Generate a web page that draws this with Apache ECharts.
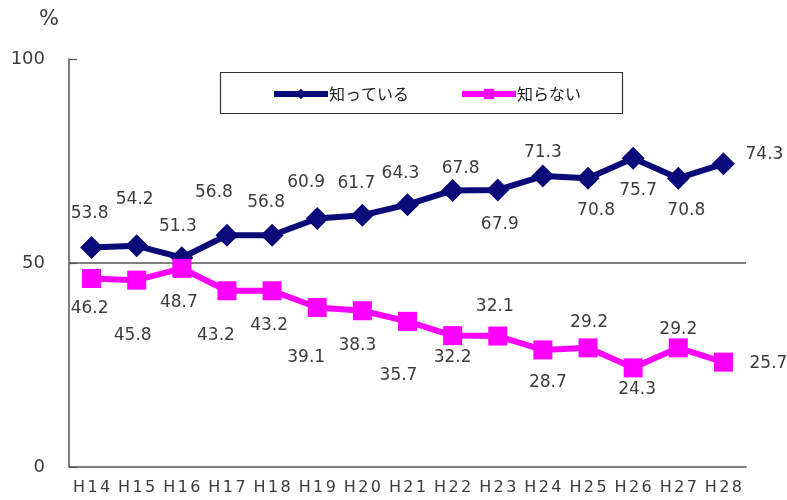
<!DOCTYPE html>
<html>
<head>
<meta charset="utf-8">
<script src="https://cdn.jsdelivr.net/npm/echarts@6/dist/echarts.min.js"></script>
<style>
  html, body { margin: 0; padding: 0; background: #fff; }
  #chart { width: 787px; height: 500px; }
</style>
</head>
<body>
<div id="chart"></div>
<script>
// Survey years (Heisei era)
const years = ['H14','H15','H16','H17','H18','H19','H20','H21','H22','H23','H24','H25','H26','H27','H28'];
// Share of respondents (%)
const knowValues    = [53.8, 54.2, 51.3, 56.8, 56.8, 60.9, 61.7, 64.3, 67.8, 67.9, 71.3, 70.8, 75.7, 70.8, 74.3];
const notKnowValues = [46.2, 45.8, 48.7, 43.2, 43.2, 39.1, 38.3, 35.7, 32.2, 32.1, 28.7, 29.2, 24.3, 29.2, 25.7];
const seriesNames = ['知っている', '知らない'];

// Label offsets [dx, dy] from each marker centre, so labels avoid the lines
const knowLabelOffsets = [
  [-2,-34],[-2,-46],[-4,-31],[-13,-43],[-6,-33],[-11,-36],[-6,-32],[-7,-31],
  [8,-22],[2,35],[0,-24],[8,32],[5,32],[8,32],[41,-9]
];
const notKnowLabelOffsets = [
  [-2,30],[-4,55],[-3,34],[-11,45],[-3,35],[-11,50],[-5,35],[-9,54],
  [0,22],[-3,-29],[5,33],[1,-25],[4,22],[0,-18],[45,1]
];

const textColor = '#3c3c3c';
const labelFont = { fontSize: 17, color: textColor, fontFamily: 'DejaVu Sans, sans-serif' };

function buildData(values, offsets) {
  return values.map((v, i) => ({ value: v, label: { offset: offsets[i] } }));
}

// Spread the characters of a tick label slightly apart
function spaced(str) {
  return str.split('').map(c => '{c|' + c + '}').join('');
}

const chart = echarts.init(document.getElementById('chart'), null, { renderer: 'canvas' });

chart.setOption({
  backgroundColor: '#ffffff',
  animation: false,
  grid: { left: 69, right: 41, top: 59, bottom: 33 },
  graphic: [
    { type: 'text', left: 39, top: 9, style: { text: '%', fontSize: 21, fill: textColor, fontFamily: 'DejaVu Sans, sans-serif' } },
    { type: 'rect', shape: { x: 220.5, y: 72.5, width: 402, height: 41 }, style: { fill: '#fff', stroke: '#333', lineWidth: 1.2 }, z: 1 }
  ],
  legend: {
    left: 266, top: 81,
    itemWidth: 54, itemHeight: 13, itemGap: 50,
    lineStyle: { width: 6 },
    textStyle: { fontSize: 16, color: '#222', fontFamily: 'Noto Sans CJK JP, sans-serif', padding: [0,0,0,-4] },
    z: 5,
    data: seriesNames
  },
  xAxis: {
    type: 'category',
    data: years,
    boundaryGap: true,
    axisLine: { lineStyle: { color: '#555', width: 1.5 } },
    axisTick: { inside: true, length: 6, lineStyle: { color: '#555', width: 1.2 } },
    axisLabel: {
      margin: 13,
      interval: 0,
      hideOverlap: false,
      formatter: spaced,
      rich: { c: { fontSize: 16, color: textColor, fontFamily: 'DejaVu Sans, sans-serif', padding: [0, 1.2] } }
    }
  },
  yAxis: {
    type: 'value',
    min: 0, max: 100, interval: 50,
    axisLine: { show: true, lineStyle: { color: '#555', width: 1.5 } },
    axisTick: { show: true, inside: true, length: 8, lineStyle: { color: '#555', width: 1.2 } },
    axisLabel: { fontSize: 18, color: textColor, margin: 24, fontFamily: 'DejaVu Sans, sans-serif' },
    splitLine: { show: true, lineStyle: { color: ['rgba(0,0,0,0)', '#555', 'rgba(0,0,0,0)'], width: 1.5 } }
  },
  series: [
    {
      name: seriesNames[0],
      type: 'line',
      data: buildData(knowValues, knowLabelOffsets),
      symbol: 'diamond', symbolSize: 23,
      lineStyle: { color: '#0a0a78', width: 6 },
      itemStyle: { color: '#0a0a78' },
      label: Object.assign({ show: true, position: 'inside' }, labelFont),
      z: 3
    },
    {
      name: seriesNames[1],
      type: 'line',
      data: buildData(notKnowValues, notKnowLabelOffsets),
      symbol: 'rect', symbolSize: 19,
      lineStyle: { color: '#ff00ff', width: 6 },
      itemStyle: { color: '#ff00ff' },
      label: Object.assign({ show: true, position: 'inside' }, labelFont),
      z: 4
    }
  ]
});
</script>
</body>
</html>
